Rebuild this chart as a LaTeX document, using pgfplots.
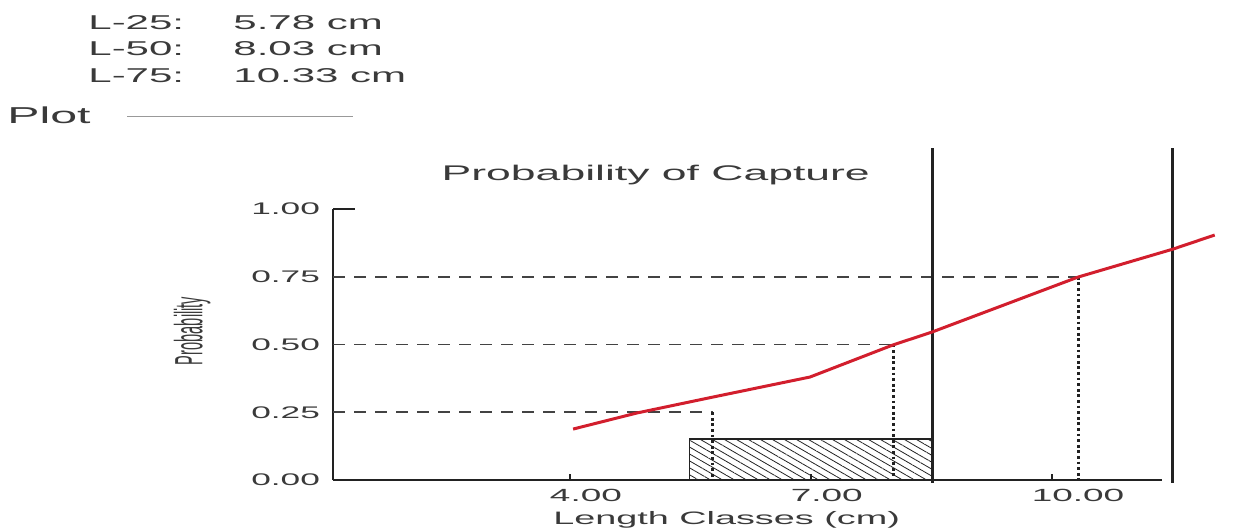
\documentclass[border=0pt]{standalone}
\usepackage{fontspec}
\setmainfont{Liberation Sans}[FakeStretch=2.1]
\newfontfamily\plainfont{Liberation Sans}
\usepackage{graphicx}
\usepackage{pgfplots}
\pgfplotsset{compat=1.18}
\usetikzlibrary{patterns.meta}
\definecolor{txt}{HTML}{3A3A3A}
\definecolor{curve}{RGB}{210,30,45}
\definecolor{ln}{HTML}{222222}
\begin{document}
\begin{tikzpicture}
\useasboundingbox (0,0) rectangle (617.5pt,263.5pt);
\begin{axis}[
  at={(166.5pt,23.5pt)}, anchor=south west,
  x=40.15pt, y=135.5pt,
  xmin=1.05, xmax=11.37, ymin=0, ymax=1,
  clip=false,
  axis lines=left,
  x axis line style={-, line width=1pt, ln},
  y axis line style={-, line width=1.4pt, ln},
  xtick={4,7,10}, xticklabels={4.00,7.00,10.00},
  ytick={0,0.25,0.5,0.75,1}, yticklabels={0.00,0.25,0.50,0.75,1.00},
  tick align=inside, major tick length=3pt,
  x tick style={line width=0.8pt, ln},
  y tick style={draw=none},
  ticklabel style={font=\fontsize{8.4}{10}\selectfont, text=txt},
  /pgf/number format/assume math mode=true,
  xticklabel style={anchor=north west, xshift=-13.5pt, yshift=-1pt, font=\fontsize{8.8}{10}\selectfont},
  yticklabel style={xshift=-3pt},
  every axis title shift=0pt,
  title={Probability of Capture},
  title style={at={(0.3895,1.126)}, anchor=center, font=\fontsize{10.6}{12}\selectfont, text=txt},
  xlabel={Length Classes (cm)},
  xlabel style={at={(0.475,-0.147)}, anchor=center, font=\fontsize{9}{11}\selectfont, text=txt},
  ylabel={\scalebox{1}[2.7]{Probability}},
  ylabel style={at={(-0.170,0.55)}, anchor=center, font=\plainfont\fontsize{7.3}{9}\selectfont, text=txt},
]
% hatched selection box
\addplot[draw=ln, line width=0.6pt, pattern={Lines[angle=-30,distance=3pt,line width=0.4pt]}, pattern color=ln]
  coordinates {(5.49,0) (5.49,0.151) (8.52,0.151) (8.52,0)} \closedcycle;
% dashed guides
\addplot[ln!85, line width=0.9pt, dash pattern=on 6pt off 4.5pt] coordinates {(1.05,0.75) (10.33,0.75)};
\addplot[ln!85, line width=0.9pt, dash pattern=on 6pt off 4.5pt] coordinates {(1.05,0.50) (8.03,0.50)};
\addplot[ln!85, line width=0.9pt, dash pattern=on 6pt off 4.5pt] coordinates {(1.05,0.25) (5.78,0.25)};
% dotted drops
\addplot[ln, line width=1.5pt, dash pattern=on 1.4pt off 1.4pt] coordinates {(10.33,0.75) (10.33,0)};
\addplot[ln, line width=1.5pt, dash pattern=on 1.4pt off 1.4pt] coordinates {(8.03,0.50) (8.03,0)};
\addplot[ln, line width=1.5pt, dash pattern=on 1.4pt off 1.4pt] coordinates {(5.78,0.25) (5.78,0)};
% vertical limits
\addplot[ln, line width=1.5pt] coordinates {(8.52,-0.01) (8.52,1.225)};
\addplot[ln, line width=1.5pt] coordinates {(11.51,-0.01) (11.51,1.225)};
% probability curve
\addplot[curve, line width=1.5pt] coordinates {
  (4.04,0.188) (4.83,0.247) (5.78,0.306) (6.99,0.380) (8.02,0.498)
  (8.51,0.546) (10.33,0.749) (11.51,0.852) (12.03,0.904)};
% tick at 1.00
\addplot[ln, line width=0.9pt] coordinates {(1.05,1) (1.32,1)};
\end{axis}
\begin{scope}[every node/.style={text=txt, font=\fontsize{10}{12}\selectfont, inner sep=0pt}]
\node[anchor=base west] at (44pt,249pt) {L-25:};
\node[anchor=base west] at (116.5pt,249pt) {5.78 cm};
\node[anchor=base west] at (44pt,235.75pt) {L-50:};
\node[anchor=base west] at (116.5pt,235.75pt) {8.03 cm};
\node[anchor=base west] at (44pt,222.5pt) {L-75:};
\node[anchor=base west] at (116.5pt,222.5pt) {10.33 cm};
\node[anchor=base west, font=\fontsize{11.5}{13}\selectfont] at (3.5pt,202pt) {Plot};
\end{scope}
\draw[gray!80, line width=0.5pt] (63.5pt,205.5pt) -- (176.5pt,205.5pt);
\end{tikzpicture}
\end{document}
